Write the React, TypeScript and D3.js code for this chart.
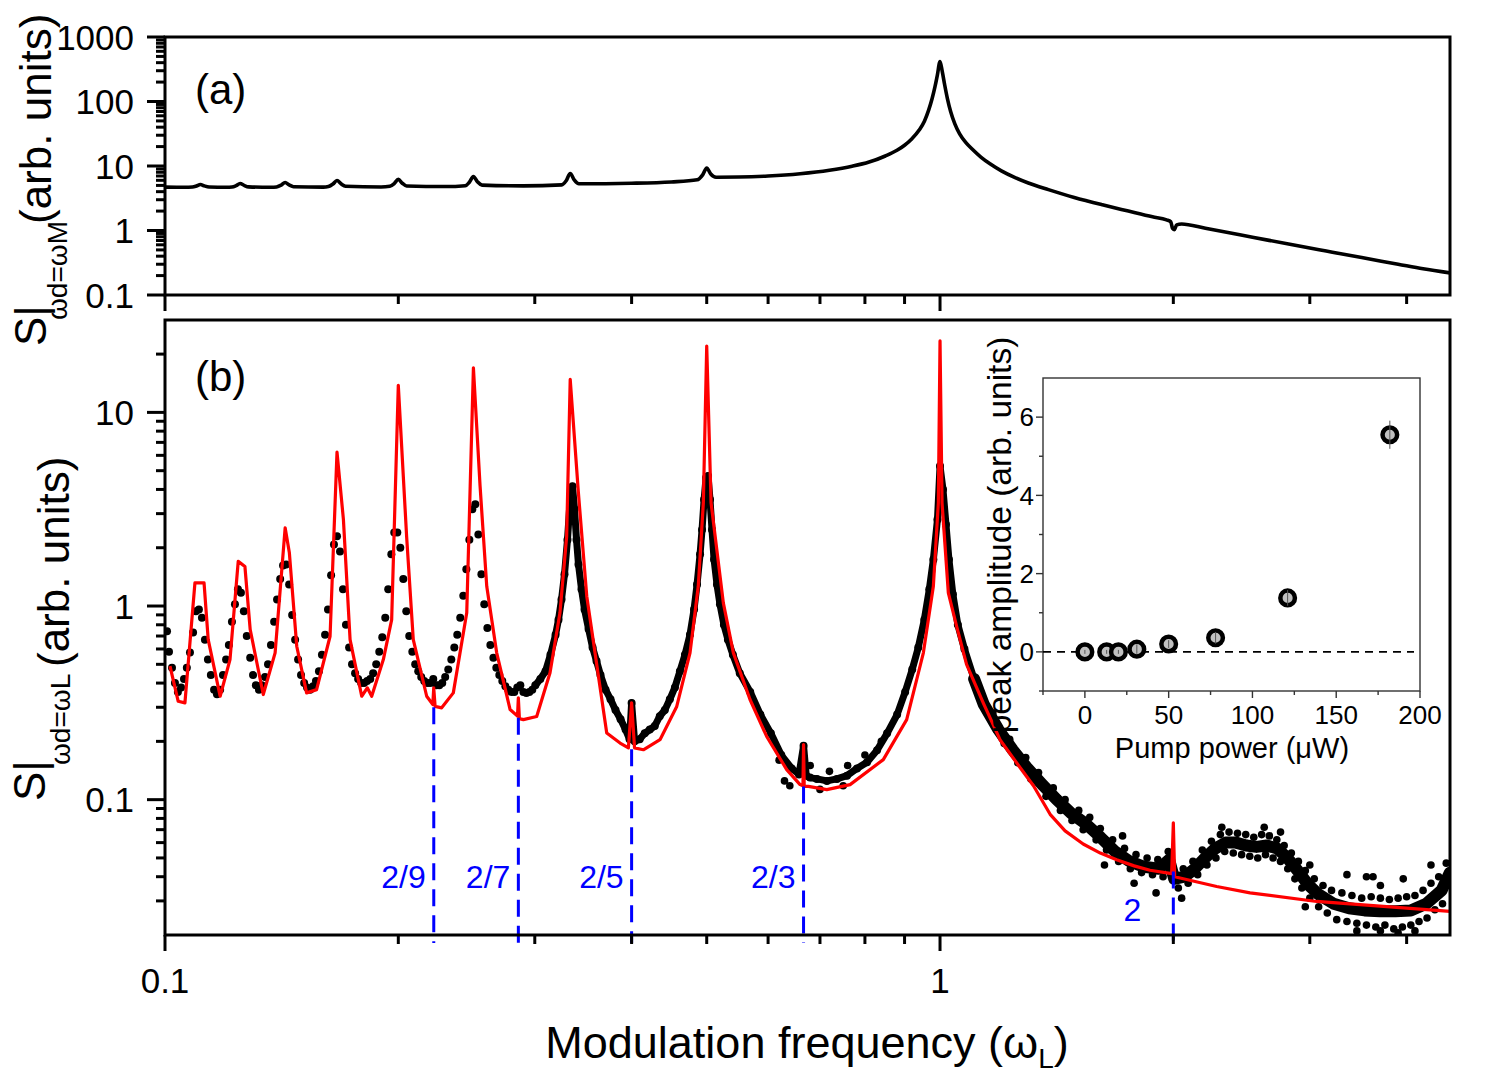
import React from "react";
import * as d3 from "d3";

type Pt = [number, number];

// ---------- panel (a): scan at omega_d = omega_M ----------
const scanA: Pt[] = [
  [0.1, 4.7], [0.106, 4.68], [0.1085, 4.72], [0.1098, 4.9], [0.1111, 5.17], [0.1124, 4.92], [0.114, 4.73],
  [0.12, 4.68], [0.122, 4.72], [0.1235, 4.95], [0.125, 5.35], [0.1265, 5.0], [0.1282, 4.75],
  [0.137, 4.68], [0.1393, 4.74], [0.1412, 5.05], [0.1429, 5.55], [0.1446, 5.1], [0.1465, 4.78],
  [0.16, 4.7], [0.1625, 4.8], [0.1647, 5.25], [0.1667, 5.96], [0.1687, 5.3], [0.171, 4.85],
  [0.19, 4.72], [0.195, 4.84], [0.1976, 5.35], [0.2, 6.2], [0.2024, 5.4], [0.205, 4.9],
  [0.23, 4.8], [0.244, 4.95], [0.247, 5.6], [0.25, 6.88], [0.253, 5.7], [0.2565, 5.05],
  [0.29, 4.92], [0.325, 5.1], [0.3293, 5.9], [0.3333, 7.65], [0.3373, 6.1], [0.342, 5.3],
  [0.4, 5.4], [0.45, 5.65], [0.486, 6.1], [0.494, 7.3], [0.5, 9.3], [0.506, 7.5], [0.514, 6.7],
  [0.55, 6.75], [0.6, 7.0], [0.66, 7.6], [0.72, 8.6], [0.77, 9.9], [0.81, 11.5], [0.85, 14.3], [0.88, 17.5],
  [0.9, 21], [0.92, 26.5], [0.94, 36], [0.955, 50], [0.967, 74], [0.977, 112], [0.985, 168], [0.992, 255],
  [1.0, 415], [1.007, 285], [1.014, 180], [1.022, 112], [1.032, 70], [1.045, 45], [1.06, 31.5], [1.08, 23],
  [1.1, 18.3], [1.13, 13.6], [1.16, 10.8], [1.2, 8.4], [1.25, 6.6], [1.3, 5.45], [1.38, 4.3], [1.49, 3.25],
  [1.62, 2.5], [1.75, 2.0], [1.88, 1.63], [1.96, 1.46], [1.985, 1.36], [1.995, 1.08], [2.005, 1.03], [2.02, 1.22],
  [2.05, 1.26], [2.2, 1.08], [2.54, 0.78], [2.85, 0.6], [3.15, 0.48], [3.5, 0.38], [3.9, 0.3], [4.2, 0.255],
  [4.55, 0.22],
];

// ---------- panel (b): measured spectrum at omega_d = omega_L ----------
const measuredB: Pt[] = [
  [0.1006, 0.74], [0.1012, 0.58], [0.1021, 0.48], [0.103, 0.4], [0.1039, 0.36], [0.1049, 0.38], [0.1058, 0.42],
  [0.1067, 0.48], [0.1077, 0.575], [0.1087, 0.73], [0.1096, 0.94], [0.1106, 0.96], [0.1116, 0.87], [0.1126, 0.67],
  [0.1136, 0.53], [0.1146, 0.44], [0.1157, 0.37], [0.1167, 0.35], [0.1178, 0.37], [0.1188, 0.44], [0.1199, 0.53],
  [0.1209, 0.63], [0.122, 0.83], [0.1231, 1.02], [0.1242, 1.22], [0.1253, 1.17], [0.1264, 0.94], [0.1275, 0.7],
  [0.1288, 0.54], [0.1299, 0.44], [0.131, 0.39], [0.1322, 0.37], [0.1333, 0.39], [0.1346, 0.43], [0.1358, 0.5],
  [0.137, 0.63], [0.1383, 0.83], [0.1395, 1.08], [0.1408, 1.38], [0.142, 1.62], [0.1433, 1.64], [0.1446, 1.29],
  [0.1459, 0.9], [0.1472, 0.67], [0.1485, 0.53], [0.1498, 0.44], [0.1512, 0.4], [0.1525, 0.38], [0.1539, 0.37],
  [0.1553, 0.385], [0.1566, 0.41], [0.158, 0.46], [0.1594, 0.56], [0.1609, 0.71], [0.1623, 0.96], [0.1638, 1.44],
  [0.1652, 2.08], [0.1667, 2.29], [0.1682, 1.91], [0.1697, 1.22], [0.1712, 0.8], [0.1728, 0.61], [0.1743, 0.5],
  [0.1759, 0.45], [0.1775, 0.42], [0.1791, 0.4], [0.1807, 0.4], [0.1823, 0.41], [0.184, 0.42], [0.1856, 0.45],
  [0.1873, 0.5], [0.189, 0.58], [0.1907, 0.69], [0.1924, 0.87], [0.1941, 1.22], [0.1959, 1.85], [0.1976, 2.4],
  [0.1994, 2.4], [0.2012, 2.0], [0.203, 1.38], [0.2048, 0.94], [0.2066, 0.7], [0.2085, 0.58], [0.2103, 0.5],
  [0.2122, 0.46], [0.2141, 0.43], [0.216, 0.41], [0.218, 0.4], [0.2199, 0.4], [0.2219, 0.42], [0.2239, 0.39],
  [0.2259, 0.39], [0.2279, 0.4], [0.2299, 0.43], [0.232, 0.47], [0.2341, 0.53], [0.2362, 0.61], [0.2383, 0.71],
  [0.2404, 0.87], [0.2426, 1.13], [0.2448, 1.55], [0.247, 2.2], [0.2492, 3.16], [0.2514, 3.35], [0.2537, 2.34],
  [0.256, 1.46], [0.2582, 1.02], [0.2606, 0.77], [0.2629, 0.63], [0.2653, 0.54], [0.2676, 0.48], [0.27, 0.44],
  [0.2724, 0.41], [0.2749, 0.385], [0.2773, 0.37], [0.2798, 0.36], [0.2823, 0.36], [0.2848, 0.38], [0.2874, 0.39],
  [0.29, 0.36], [0.2926, 0.355], [0.2952, 0.36], [0.2978, 0.37],
  [0.3005, 0.39], [0.305, 0.42], [0.3097, 0.46], [0.3143, 0.56], [0.3191, 0.71], [0.3219, 0.85], [0.3248, 1.08],
  [0.3277, 1.46], [0.3306, 2.2], [0.3336, 3.77], [0.3356, 4.15], [0.3376, 3.16], [0.3396, 2.2], [0.3416, 1.64],
  [0.3447, 1.22], [0.3478, 0.96], [0.352, 0.76], [0.3562, 0.61], [0.3604, 0.52], [0.3647, 0.44], [0.3702, 0.37],
  [0.3757, 0.33], [0.3813, 0.29], [0.3871, 0.26], [0.3929, 0.23], [0.3976, 0.205], [0.4, 0.316], [0.4036, 0.2],
  [0.4097, 0.205], [0.4159, 0.22], [0.4222, 0.23], [0.4285, 0.24], [0.4349, 0.27], [0.4415, 0.29], [0.4481, 0.33],
  [0.4549, 0.38], [0.4617, 0.46], [0.4687, 0.56], [0.4757, 0.71], [0.4815, 0.96], [0.4858, 1.29], [0.4902, 1.85],
  [0.4931, 2.48], [0.4961, 3.55], [0.499, 4.6], [0.502, 4.7], [0.5049, 3.55], [0.5079, 2.48], [0.511, 1.74],
  [0.5155, 1.29], [0.5201, 1.02], [0.5262, 0.8], [0.5325, 0.67], [0.5404, 0.56], [0.5516, 0.45], [0.569, 0.36],
  [0.5865, 0.275], [0.605, 0.22], [0.624, 0.17], [0.6436, 0.145], [0.6577, 0.135], [0.6667, 0.19], [0.672, 0.133],
  [0.6794, 0.13], [0.6936, 0.128], [0.7147, 0.125], [0.7362, 0.128], [0.7585, 0.133], [0.7814, 0.145], [0.805, 0.156],
  [0.8294, 0.18], [0.8545, 0.22], [0.8803, 0.275], [0.9016, 0.36], [0.9207, 0.47], [0.9374, 0.61], [0.9544, 0.85],
  [0.9687, 1.22], [0.9804, 1.74], [0.9924, 2.8], [1.0, 5.28], [1.0089, 4.0], [1.0178, 2.64], [1.0269, 1.74],
  [1.0389, 1.15], [1.0544, 0.8], [1.0753, 0.6], [1.1066, 0.42], [1.139, 0.31], [1.1895, 0.23], [1.242, 0.18],
  [1.297, 0.145], [1.3544, 0.12], [1.4144, 0.1], [1.477, 0.085], [1.5424, 0.075], [1.6107, 0.064], [1.682, 0.054],
  [1.7565, 0.048], [1.8342, 0.045], [1.9154, 0.044], [1.9749, 0.049], [2.0052, 0.039], [2.0675, 0.04], [2.1316, 0.044],
  [2.1978, 0.05], [2.266, 0.056], [2.3364, 0.06], [2.4088, 0.06], [2.4836, 0.058], [2.5607, 0.057], [2.6402, 0.058],
  [2.7221, 0.056], [2.8066, 0.05], [2.8937, 0.043], [2.9834, 0.0365], [3.0761, 0.0325], [3.2203, 0.029],
  [3.3713, 0.0275], [3.5294, 0.0268], [3.6949, 0.0265], [3.8681, 0.0265], [4.0494, 0.0268], [4.2393, 0.029],
  [4.438, 0.034], [4.5486, 0.042],
];

// scatter of the measured points around the trace
const measuredSpread: Pt[] = [
  [0.62, 0.16], [0.63, 0.125], [0.64, 0.118], [0.68, 0.15], [0.7, 0.113], [0.72, 0.14], [0.75, 0.118],
  [0.76, 0.15], [0.8, 0.17], [0.84, 0.2],
  [1.17, 0.28], [1.21, 0.195], [1.23, 0.205], [1.26, 0.155], [1.29, 0.165], [1.31, 0.128], [1.34, 0.138],
  [1.37, 0.104], [1.4, 0.115], [1.43, 0.088], [1.45, 0.1], [1.48, 0.078], [1.51, 0.088], [1.53, 0.07],
  [1.56, 0.081], [1.59, 0.062], [1.61, 0.071], [1.64, 0.055], [1.67, 0.062], [1.7, 0.048], [1.73, 0.056],
  [1.76, 0.044], [1.79, 0.052], [1.82, 0.042], [1.85, 0.05], [1.88, 0.041], [1.91, 0.049], [1.94, 0.04],
  [1.97, 0.054], [2.03, 0.035], [2.06, 0.044], [2.09, 0.037], [2.12, 0.048], [2.15, 0.041], [2.18, 0.055],
  [2.21, 0.046], [2.24, 0.061], [2.27, 0.05], [2.3, 0.066], [2.33, 0.054], [2.36, 0.068], [2.39, 0.053],
  [2.42, 0.067], [2.45, 0.052], [2.48, 0.066], [2.51, 0.051], [2.54, 0.064], [2.57, 0.05], [2.6, 0.066],
  [2.63, 0.052], [2.66, 0.065], [2.69, 0.05], [2.72, 0.062], [2.75, 0.048], [2.78, 0.058], [2.81, 0.044],
  [2.84, 0.053], [2.87, 0.039], [2.9, 0.048], [2.93, 0.035], [2.96, 0.043], [3.0, 0.031], [3.04, 0.039],
  [3.08, 0.028], [3.12, 0.036], [3.16, 0.026], [3.2, 0.034], [3.25, 0.024], [3.3, 0.033], [3.35, 0.0235],
  [3.4, 0.032], [3.45, 0.023], [3.5, 0.031], [3.55, 0.0225], [3.6, 0.0315], [3.65, 0.022], [3.7, 0.031],
  [3.75, 0.0225], [3.8, 0.0305], [3.85, 0.0215], [3.9, 0.031], [3.95, 0.022], [4.0, 0.0315], [4.05, 0.0225],
  [4.1, 0.032], [4.15, 0.0235], [4.2, 0.034], [4.25, 0.0245], [4.3, 0.037], [4.35, 0.027], [4.4, 0.04],
  [4.45, 0.029], [4.5, 0.047],
  [1.63, 0.046], [1.72, 0.065], [2.05, 0.031], [2.31, 0.072], [2.62, 0.072], [2.75, 0.068], [3.0, 0.046],
  [3.35, 0.041], [3.55, 0.04], [3.62, 0.04], [3.7, 0.036], [3.96, 0.039], [4.3, 0.046], [3.45, 0.021],
  [3.9, 0.0205], [4.1, 0.021], [2.96, 0.028], [3.7, 0.021], [1.9, 0.033], [1.78, 0.037],
];

// ---------- panel (b): model curve ----------
const modelB: Pt[] = [
  [0.1015, 0.489], [0.104, 0.322], [0.1061, 0.316], [0.1093, 1.318], [0.1123, 1.318], [0.1137, 0.671], [0.1178, 0.342],
  [0.1213, 0.529], [0.1243, 1.7], [0.1268, 1.6], [0.1288, 0.756], [0.1339, 0.349], [0.1387, 0.573], [0.1429, 2.536],
  [0.1447, 1.884], [0.1479, 0.62], [0.1523, 0.356], [0.1569, 0.37], [0.1633, 0.698], [0.1667, 6.24], [0.1699, 2.8],
  [0.1733, 0.671], [0.1794, 0.342], [0.1824, 0.378], [0.1848, 0.342], [0.1913, 0.529], [0.1961, 0.851], [0.2, 13.79],
  [0.205, 2.29], [0.2091, 0.671], [0.2176, 0.342], [0.2216, 0.31], [0.2222, 0.378], [0.2231, 0.303], [0.2275, 0.298],
  [0.2355, 0.356], [0.2451, 0.922], [0.25, 17.0], [0.255, 4.16], [0.2601, 1.265], [0.2679, 0.573], [0.2788, 0.292],
  [0.285, 0.27], [0.2857, 0.336], [0.2866, 0.262], [0.29, 0.259], [0.3017, 0.269], [0.3139, 0.452], [0.3233, 0.922],
  [0.3298, 2.29], [0.3333, 14.8], [0.3415, 3.85], [0.3501, 1.124], [0.3715, 0.221], [0.3865, 0.196], [0.3962, 0.185],
  [0.4, 0.316], [0.4035, 0.185], [0.4142, 0.181], [0.4352, 0.204], [0.4574, 0.303], [0.4758, 0.573], [0.4876, 1.265],
  [0.495, 3.41], [0.5, 22.0], [0.5065, 3.41], [0.5253, 1.038], [0.5412, 0.573], [0.5686, 0.329], [0.5975, 0.212],
  [0.6341, 0.143], [0.6598, 0.1196], [0.6655, 0.118], [0.6667, 0.1925], [0.668, 0.117], [0.6763, 0.117], [0.7143, 0.1127],
  [0.7655, 0.1196], [0.8449, 0.161], [0.9057, 0.259], [0.9517, 0.573], [0.9804, 1.265], [0.995, 3.41], [1.0, 23.4],
  [1.006, 3.41], [1.025, 1.17], [1.051, 0.78], [1.082, 0.5], [1.137, 0.316], [1.195, 0.204], [1.26, 0.152],
  [1.32, 0.118], [1.387, 0.084], [1.45, 0.069], [1.53, 0.059], [1.61, 0.053], [1.69, 0.049], [1.78, 0.0455],
  [1.866, 0.0432], [1.99, 0.0415], [2.0, 0.076], [2.008, 0.04], [2.275, 0.0356], [2.512, 0.033], [3.062, 0.0298],
  [3.733, 0.0281], [4.55, 0.0265],
];

// ---------- combination resonances ----------
const resonanceLabels = ["2/9", "2/7", "2/5", "2/3", "2"];
const resonanceFreq = [2 / 9, 2 / 7, 2 / 5, 2 / 3, 2];
const resonanceFloor = [0.3, 0.265, 0.182, 0.117, 0.0425];

// ---------- inset ----------
const pumpPower = [0, 13, 20, 31, 50, 78, 121, 182];
const peakAmplitude = [0, 0, 0, 0.07, 0.2, 0.36, 1.38, 5.55];
const peakError = [0.05, 0.05, 0.05, 0.12, 0.1, 0.15, 0.2, 0.36];

// ---------- ticks ----------
const xMajorTicks = [0.1, 1];
const xTickLabels = ["0.1", "1"];
const xMinorTicks = [0.2, 0.3, 0.4, 0.5, 0.6, 0.7, 0.8, 0.9, 2, 3, 4];
const aMajorTicks = [0.1, 1, 10, 100, 1000];
const aTickLabels = ["0.1", "1", "10", "100", "1000"];
const bMajorTicks = [0.1, 1, 10];
const bTickLabels = ["0.1", "1", "10"];
const insetXTicks = [0, 50, 100, 150, 200];
const insetXMinor = [-25, 25, 75, 125, 175];
const insetYTicks = [0, 2, 4, 6];
const insetYMinor = [-1, 1, 3, 5];

const FONT = "'Liberation Sans', Arial, Helvetica, sans-serif";

// layout
const X0 = 165, X1 = 1450;
const A_TOP = 37, A_BOT = 295;
const B_TOP = 320, B_BOT = 935;
const IN_X0 = 1043, IN_X1 = 1420, IN_Y0 = 378, IN_Y1 = 691;

function minorLogTicks(lo: number, hi: number): number[] {
  const out: number[] = [];
  for (let dec = Math.floor(Math.log10(lo)); dec <= Math.ceil(Math.log10(hi)); dec++) {
    for (let m = 2; m <= 9; m++) {
      const v = m * Math.pow(10, dec);
      if (v > lo * 1.0001 && v < hi * 0.9999) out.push(v);
    }
  }
  return out;
}

export default function App() {
  const x = d3.scaleLog().domain([0.1, 4.55]).range([X0, X1]);
  const yA = d3.scaleLog().domain([0.1, 1000]).range([A_BOT, A_TOP]);
  const yB = d3.scaleLog().domain([0.02, 30]).range([B_BOT, B_TOP]);
  const xi = d3.scaleLinear().domain([-25, 200]).range([IN_X0, IN_X1]);
  const yi = d3.scaleLinear().domain([-1, 7]).range([IN_Y1, IN_Y0]);

  const lineA = d3.line<Pt>().x((d) => x(d[0])).y((d) => yA(d[1])).curve(d3.curveMonotoneX);
  const lineB = d3.line<Pt>().x((d) => x(d[0])).y((d) => yB(d[1]));

  // dense part of the record, drawn as a continuous band under the dots
  const denseNear = measuredB.filter((d) => d[0] >= 0.3 && d[0] <= 1.2);
  const denseTail = measuredB.filter((d) => d[0] >= 1.1);

  const xTicksFor = (yBase: number, key: string) => (
    <g key={key}>
      {xMajorTicks.map((t) => (
        <line key={"M" + t} x1={x(t)} x2={x(t)} y1={yBase} y2={yBase + 16} stroke="#000" strokeWidth={3} />
      ))}
      {xMinorTicks.map((t) => (
        <line key={"m" + t} x1={x(t)} x2={x(t)} y1={yBase} y2={yBase + 9} stroke="#000" strokeWidth={3} />
      ))}
    </g>
  );

  const yTicksFor = (y: d3.ScaleLogarithmic<number, number>, major: number[], labels: string[], key: string) => {
    const [lo, hi] = y.domain();
    const minor = minorLogTicks(lo, hi);
    return (
      <g key={key}>
        {major.map((t, i) => (
          <g key={"M" + t}>
            <line x1={X0 - 18} x2={X0} y1={y(t)} y2={y(t)} stroke="#000" strokeWidth={3} />
            <text x={134} y={y(t)} dy="0.36em" textAnchor="end" fontSize={35} fontFamily={FONT}>
              {labels[i]}
            </text>
          </g>
        ))}
        {minor.map((t) => (
          <line key={"m" + t} x1={X0 - 9} x2={X0} y1={y(t)} y2={y(t)} stroke="#000" strokeWidth={3} />
        ))}
      </g>
    );
  };

  return (
    <svg width={1503} height={1084} style={{ position: "absolute", left: 0, top: 0, background: "#fff" }}>
      <defs>
        <clipPath id="clipA">
          <rect x={X0} y={A_TOP} width={X1 - X0} height={A_BOT - A_TOP} />
        </clipPath>
        <clipPath id="clipB">
          <rect x={X0} y={B_TOP} width={X1 - X0} height={B_BOT - B_TOP} />
        </clipPath>
      </defs>
      <rect x={0} y={0} width={1503} height={1084} fill="#fff" />

      {/* panel (a) */}
      <g clipPath="url(#clipA)">
        <path d={lineA(scanA) ?? ""} fill="none" stroke="#000" strokeWidth={3.6} strokeLinejoin="round" />
      </g>
      <rect x={X0} y={A_TOP} width={X1 - X0} height={A_BOT - A_TOP} fill="none" stroke="#000" strokeWidth={3} />
      {xTicksFor(A_BOT, "xa")}
      {yTicksFor(yA, aMajorTicks, aTickLabels, "ya")}
      <text x={195} y={104} fontSize={42} fontFamily={FONT}>(a)</text>

      {/* panel (b) */}
      <g clipPath="url(#clipB)">
        <path d={lineB(denseNear) ?? ""} fill="none" stroke="#000" strokeWidth={7} strokeLinejoin="round" strokeLinecap="round" />
        <path d={lineB(denseTail) ?? ""} fill="none" stroke="#000" strokeWidth={12} strokeLinejoin="round" strokeLinecap="round" />
        {measuredB.map((d, i) => (
          <circle key={"b" + i} cx={x(d[0])} cy={yB(d[1])} r={4} fill="#000" />
        ))}
        {measuredSpread.map((d, i) => (
          <circle key={"s" + i} cx={x(d[0])} cy={yB(d[1])} r={3.8} fill="#000" />
        ))}
        <path d={lineB(modelB) ?? ""} fill="none" stroke="#ff0000" strokeWidth={3.2} strokeLinejoin="round" />
      </g>
      {resonanceFreq.map((f, i) => (
        <line key={"r" + i} x1={x(f)} x2={x(f)} y1={yB(resonanceFloor[i])} y2={B_BOT + 8}
          stroke="#0000ff" strokeWidth={3} strokeDasharray="17 9" />
      ))}
      {resonanceFreq.map((f, i) => (
        <text key={"rl" + i} x={x(f) - (i === 4 ? 32 : 8)} y={i === 4 ? 921 : 888} textAnchor="end"
          fontSize={32} fontFamily={FONT} fill="#0000ff">
          {resonanceLabels[i]}
        </text>
      ))}
      <rect x={X0} y={B_TOP} width={X1 - X0} height={B_BOT - B_TOP} fill="none" stroke="#000" strokeWidth={3} />
      {xTicksFor(B_BOT, "xb")}
      {yTicksFor(yB, bMajorTicks, bTickLabels, "yb")}
      {xMajorTicks.map((t, i) => (
        <text key={"xl" + t} x={x(t)} y={993} textAnchor="middle" fontSize={35} fontFamily={FONT}>
          {xTickLabels[i]}
        </text>
      ))}
      <text x={195} y={391} fontSize={42} fontFamily={FONT}>(b)</text>

      {/* axis titles */}
      <text x={807} y={1058} textAnchor="middle" fontSize={45} fontFamily={FONT}>
        Modulation frequency (ω<tspan fontSize={28} dy={10}>L</tspan><tspan dy={-10}>)</tspan>
      </text>
      <g fontFamily={FONT}>
        <text transform="translate(46,346) rotate(-90)" fontSize={44}>S|</text>
        <text transform="translate(67,320) rotate(-90)" fontSize={28}>ωd=ωM</text>
        <text transform="translate(51,224) rotate(-90)" fontSize={44}>(arb. units)</text>
        <text transform="translate(45,801) rotate(-90)" fontSize={44}>S|</text>
        <text transform="translate(70,765) rotate(-90)" fontSize={28}>ωd=ωL</text>
        <text transform="translate(69,667) rotate(-90)" fontSize={44}>(arb. units)</text>
      </g>

      {/* inset */}
      <g>
        <rect x={IN_X0} y={IN_Y0} width={IN_X1 - IN_X0} height={IN_Y1 - IN_Y0} fill="none" stroke="#333" strokeWidth={1.4} />
        <line x1={IN_X0} x2={IN_X1 - 6} y1={yi(0)} y2={yi(0)} stroke="#000" strokeWidth={1.6} strokeDasharray="8 6" />
        {insetXTicks.map((t) => (
          <g key={"ix" + t}>
            <line x1={xi(t)} x2={xi(t)} y1={IN_Y1} y2={IN_Y1 + 7} stroke="#333" strokeWidth={1.4} />
            <text x={xi(t)} y={724} textAnchor="middle" fontSize={26} fontFamily={FONT}>{t}</text>
          </g>
        ))}
        {insetXMinor.map((t) => (
          <line key={"ixm" + t} x1={xi(t)} x2={xi(t)} y1={IN_Y1} y2={IN_Y1 + 4} stroke="#333" strokeWidth={1.4} />
        ))}
        {insetYTicks.map((t) => (
          <g key={"iy" + t}>
            <line x1={IN_X0 - 7} x2={IN_X0} y1={yi(t)} y2={yi(t)} stroke="#333" strokeWidth={1.4} />
            <text x={1034} y={yi(t)} dy="0.36em" textAnchor="end" fontSize={26} fontFamily={FONT}>{t}</text>
          </g>
        ))}
        {insetYMinor.map((t) => (
          <line key={"iym" + t} x1={IN_X0 - 4} x2={IN_X0} y1={yi(t)} y2={yi(t)} stroke="#333" strokeWidth={1.4} />
        ))}
        {pumpPower.map((p, i) => (
          <circle key={"ip" + i} cx={xi(p)} cy={yi(peakAmplitude[i])} r={7.3} fill="#c0c0c0" stroke="#000" strokeWidth={4.5} />
        ))}
        {pumpPower.map((p, i) => (
          <line key={"ie" + i} x1={xi(p)} x2={xi(p)} y1={yi(peakAmplitude[i] - peakError[i])}
            y2={yi(peakAmplitude[i] + peakError[i])} stroke="#555" strokeWidth={1} />
        ))}
        <text x={1232} y={758} textAnchor="middle" fontSize={29} fontFamily={FONT}>Pump power (μW)</text>
        <text transform="translate(1011,535) rotate(-90)" textAnchor="middle" fontSize={33.5} fontFamily={FONT}>
          peak amplitude (arb. units)
        </text>
      </g>
    </svg>
  );
}
